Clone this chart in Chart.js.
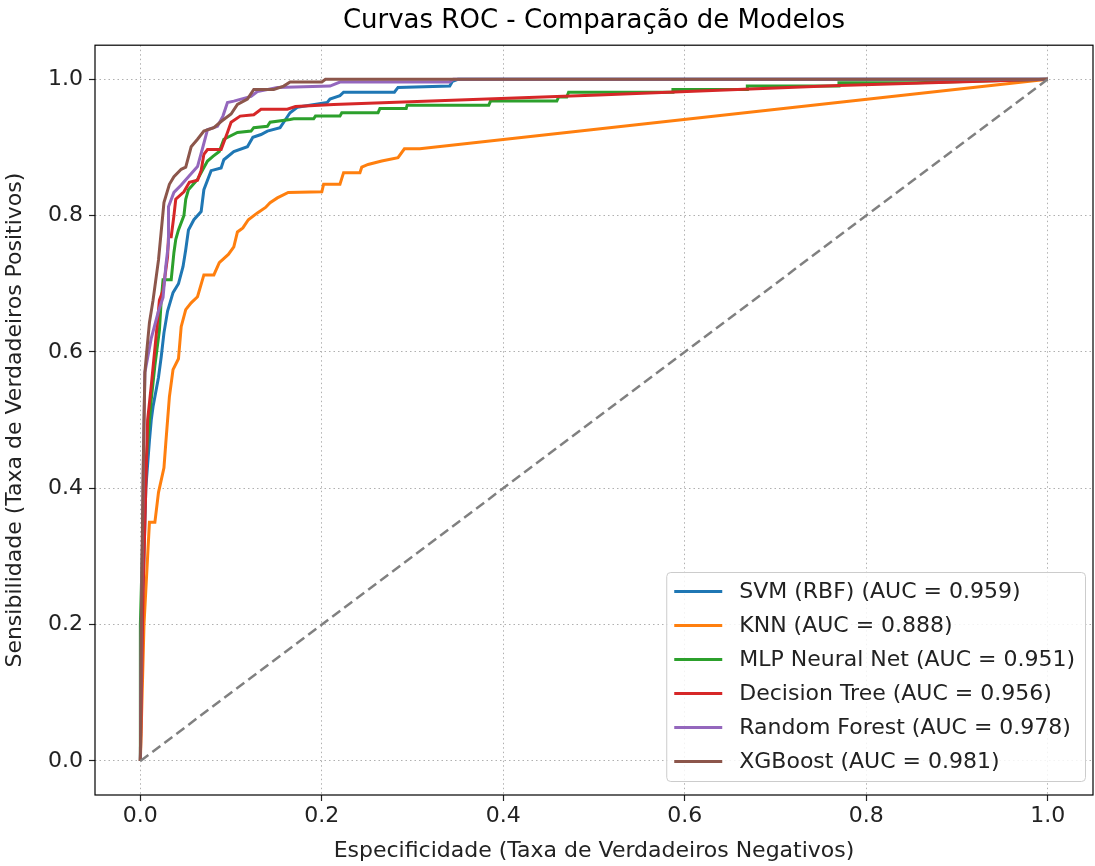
<!DOCTYPE html>
<html>
<head>
<meta charset="utf-8">
<script src="https://cdn.jsdelivr.net/npm/chart.js@4"></script>
<style>
  html, body { margin: 0; padding: 0; background: #fff; }
</style>
</head>
<body>
<canvas id="roc" width="1095" height="866"></canvas>
<script>
// ROC points (FPR, TPR)
const TICKS = [0, 0.2, 0.4, 0.6, 0.8, 1.0];

const svmFpr = [0, 0.002, 0.006, 0.010, 0.012, 0.014, 0.020, 0.023, 0.026, 0.030, 0.036, 0.042, 0.047, 0.050, 0.053, 0.059, 0.067, 0.070, 0.078, 0.089, 0.092, 0.103, 0.118, 0.124, 0.133, 0.140, 0.154, 0.160, 0.165, 0.173, 0.206, 0.209, 0.220, 0.224, 0.280, 0.284, 0.341, 0.344, 0.350, 1.0];
const svmTpr = [0, 0.20, 0.40, 0.470, 0.500, 0.520, 0.563, 0.593, 0.628, 0.660, 0.687, 0.700, 0.725, 0.750, 0.779, 0.794, 0.806, 0.838, 0.866, 0.870, 0.882, 0.894, 0.901, 0.915, 0.919, 0.924, 0.929, 0.941, 0.951, 0.959, 0.966, 0.971, 0.976, 0.981, 0.981, 0.988, 0.990, 0.997, 1.0, 1.0];

const knnFpr = [0, 0.004, 0.008, 0.010, 0.016, 0.020, 0.026, 0.028, 0.032, 0.036, 0.042, 0.045, 0.050, 0.056, 0.063, 0.070, 0.081, 0.087, 0.097, 0.103, 0.107, 0.113, 0.119, 0.129, 0.138, 0.143, 0.151, 0.163, 0.200, 0.202, 0.220, 0.224, 0.242, 0.244, 0.251, 0.266, 0.284, 0.291, 0.308, 1.0];
const knnTpr = [0, 0.20, 0.30, 0.350, 0.350, 0.394, 0.430, 0.466, 0.534, 0.574, 0.590, 0.637, 0.662, 0.672, 0.681, 0.713, 0.713, 0.731, 0.743, 0.754, 0.776, 0.782, 0.794, 0.804, 0.812, 0.819, 0.826, 0.834, 0.835, 0.846, 0.846, 0.863, 0.863, 0.871, 0.875, 0.880, 0.885, 0.898, 0.898, 1.0];

const mlpFpr = [0, 0.000, 0.004, 0.010, 0.012, 0.016, 0.021, 0.023, 0.025, 0.034, 0.037, 0.039, 0.042, 0.048, 0.050, 0.053, 0.063, 0.069, 0.074, 0.080, 0.087, 0.092, 0.107, 0.122, 0.125, 0.140, 0.143, 0.165, 0.169, 0.191, 0.193, 0.220, 0.222, 0.262, 0.264, 0.293, 0.294, 0.384, 0.386, 0.459, 0.461, 0.470, 0.472, 0.587, 0.587, 0.669, 0.669, 0.770, 0.770, 0.855, 1.0];
const mlpTpr = [0, 0.20, 0.40, 0.500, 0.530, 0.580, 0.632, 0.676, 0.706, 0.706, 0.746, 0.765, 0.779, 0.800, 0.824, 0.838, 0.853, 0.868, 0.880, 0.887, 0.894, 0.912, 0.922, 0.924, 0.929, 0.931, 0.937, 0.941, 0.942, 0.942, 0.946, 0.946, 0.951, 0.951, 0.957, 0.957, 0.962, 0.962, 0.968, 0.968, 0.974, 0.974, 0.981, 0.981, 0.985, 0.985, 0.990, 0.990, 0.995, 0.995, 1.0];

const dtFpr = [0, 0.003, 0.008, 0.012, 0.018, 0.021, 0.025, 0.030, 0.031, 0.034, 0.037, 0.039, 0.048, 0.054, 0.063, 0.067, 0.070, 0.074, 0.089, 0.096, 0.100, 0.110, 0.125, 0.133, 0.162, 0.171, 0.213, 0.505, 0.770, 1.0];
const dtTpr = [0, 0.25, 0.50, 0.550, 0.632, 0.676, 0.690, 0.740, 0.769, 0.769, 0.800, 0.824, 0.835, 0.849, 0.852, 0.866, 0.890, 0.897, 0.897, 0.922, 0.937, 0.946, 0.948, 0.956, 0.956, 0.960, 0.963, 0.977, 0.991, 1.0];

const rfFpr = [0, 0.001, 0.004, 0.005, 0.012, 0.020, 0.025, 0.028, 0.031, 0.031, 0.037, 0.045, 0.053, 0.063, 0.069, 0.074, 0.085, 0.091, 0.096, 0.103, 0.122, 0.129, 0.151, 0.209, 0.220, 0.341, 0.345, 1.0];
const rfTpr = [0, 0.20, 0.50, 0.570, 0.620, 0.660, 0.680, 0.725, 0.760, 0.813, 0.834, 0.845, 0.857, 0.872, 0.901, 0.926, 0.931, 0.946, 0.966, 0.968, 0.975, 0.982, 0.988, 0.990, 0.996, 0.996, 1.0, 1.0];

const xgbFpr = [0, 0.001, 0.003, 0.005, 0.007, 0.010, 0.014, 0.020, 0.026, 0.032, 0.037, 0.045, 0.050, 0.056, 0.063, 0.070, 0.081, 0.089, 0.100, 0.107, 0.118, 0.125, 0.147, 0.158, 0.165, 0.200, 0.204, 1.0];
const xgbTpr = [0, 0.19, 0.42, 0.570, 0.600, 0.643, 0.676, 0.735, 0.819, 0.846, 0.857, 0.868, 0.871, 0.901, 0.912, 0.924, 0.929, 0.938, 0.949, 0.963, 0.971, 0.985, 0.985, 0.990, 0.996, 0.996, 1.0, 1.0];

const models = ['SVM (RBF)', 'KNN', 'MLP Neural Net', 'Decision Tree', 'Random Forest', 'XGBoost'];
const aucs = [0.959, 0.888, 0.951, 0.956, 0.978, 0.981];
const colors = ['#1f77b4', '#ff7f0e', '#2ca02c', '#d62728', '#9467bd', '#8c564b'];
const curves = [[svmFpr, svmTpr], [knnFpr, knnTpr], [mlpFpr, mlpTpr], [dtFpr, dtTpr], [rfFpr, rfTpr], [xgbFpr, xgbTpr]];

const pts = (xs, ys) => xs.map((x, i) => ({ x: x, y: ys[i] }));

const datasets = models.map((m, i) => ({
  label: `${m} (AUC = ${aucs[i].toFixed(3)})`,
  data: pts(curves[i][0], curves[i][1]),
  borderColor: colors[i],
  borderWidth: 3,
  pointRadius: 0,
  showLine: true,
  fill: false,
  order: models.length - i,
}));
datasets.push({
  label: '',
  data: pts([0, 1], [0, 1]),
  borderColor: '#808080',
  borderWidth: 2.5,
  borderDash: [10, 5],
  pointRadius: 0,
  showLine: true,
  order: 0,
});

// matplotlib-like legend box inside the axes, lower right
const legendBox = {
  id: 'legendBox',
  afterDraw(chart) {
    const { ctx, chartArea } = chart;
    const items = chart.data.datasets.filter(d => d.label);
    ctx.save();
    ctx.font = '22px "DejaVu Sans"';
    const textW = Math.max(...items.map(d => ctx.measureText(d.label).width));
    const rowH = 34;
    const w = 8 + 48 + 17 + textW + 10;
    const h = rowH * items.length + 5;
    const right = chartArea.right - 8;
    const bottom = chartArea.bottom - 14;
    const left = right - w, top = bottom - h;
    ctx.fillStyle = 'rgba(255,255,255,0.85)';
    ctx.strokeStyle = '#cccccc';
    ctx.lineWidth = 1;
    ctx.beginPath();
    ctx.roundRect(left + 0.5, top + 0.5, w, h, 4);
    ctx.fill();
    ctx.stroke();
    ctx.textBaseline = 'middle';
    items.forEach((d, i) => {
      const y = top + 19.5 + i * rowH;
      ctx.strokeStyle = d.borderColor;
      ctx.lineWidth = 3;
      ctx.beginPath();
      ctx.moveTo(left + 8, y);
      ctx.lineTo(left + 56, y);
      ctx.stroke();
      ctx.fillStyle = '#222';
      ctx.fillText(d.label, left + 73, y + 1);
    });
    // axes frame
    ctx.strokeStyle = '#000';
    ctx.lineWidth = 1.2;
    ctx.strokeRect(chartArea.left, chartArea.top, chartArea.right - chartArea.left, chartArea.bottom - chartArea.top);
    ctx.restore();
  }
};

Chart.defaults.font.family = '"DejaVu Sans"';
Chart.defaults.color = '#222';

const gridOpts = { color: '#b0b0b0', lineWidth: 1, tickColor: '#222', tickLength: 6, tickWidth: 1.2, tickBorderDash: [] };

new Chart(document.getElementById('roc'), {
  type: 'scatter',
  data: { datasets: datasets },
  options: {
    responsive: false,
    animation: false,
    layout: { padding: { left: 0, right: 2, top: 0, bottom: 0 } },
    plugins: {
      legend: { display: false },
      tooltip: { enabled: false },
      title: {
        display: true,
        fullSize: false,
        text: 'Curvas ROC - Comparação de Modelos',
        font: { size: 26, weight: 'normal' },
        color: '#000',
        padding: { top: 6, bottom: 8 },
      },
    },
    scales: {
      x: {
        type: 'linear',
        min: -0.05, max: 1.05,
        afterBuildTicks: s => { s.ticks = TICKS.map(v => ({ value: v })); },
        afterFit: s => { s.height = 71; },
        ticks: { callback: v => v.toFixed(1), font: { size: 22 }, padding: 2, maxRotation: 0 },
        grid: gridOpts,
        border: { display: false, dash: [1.5, 3] },
        title: { display: true, text: 'Especificidade (Taxa de Verdadeiros Negativos)', font: { size: 22 }, padding: { top: 0, bottom: 2 } },
      },
      y: {
        type: 'linear',
        min: -0.05, max: 1.05,
        afterBuildTicks: s => { s.ticks = TICKS.map(v => ({ value: v })); },
        afterFit: s => { s.width = 95; },
        ticks: { callback: v => v.toFixed(1), font: { size: 22 }, padding: 6 },
        grid: gridOpts,
        border: { display: false, dash: [1.5, 3] },
        title: { display: true, text: 'Sensibilidade (Taxa de Verdadeiros Positivos)', font: { size: 22 }, padding: { top: 2, bottom: 0 } },
      },
    },
  },
  plugins: [legendBox],
});
</script>
</body>
</html>
